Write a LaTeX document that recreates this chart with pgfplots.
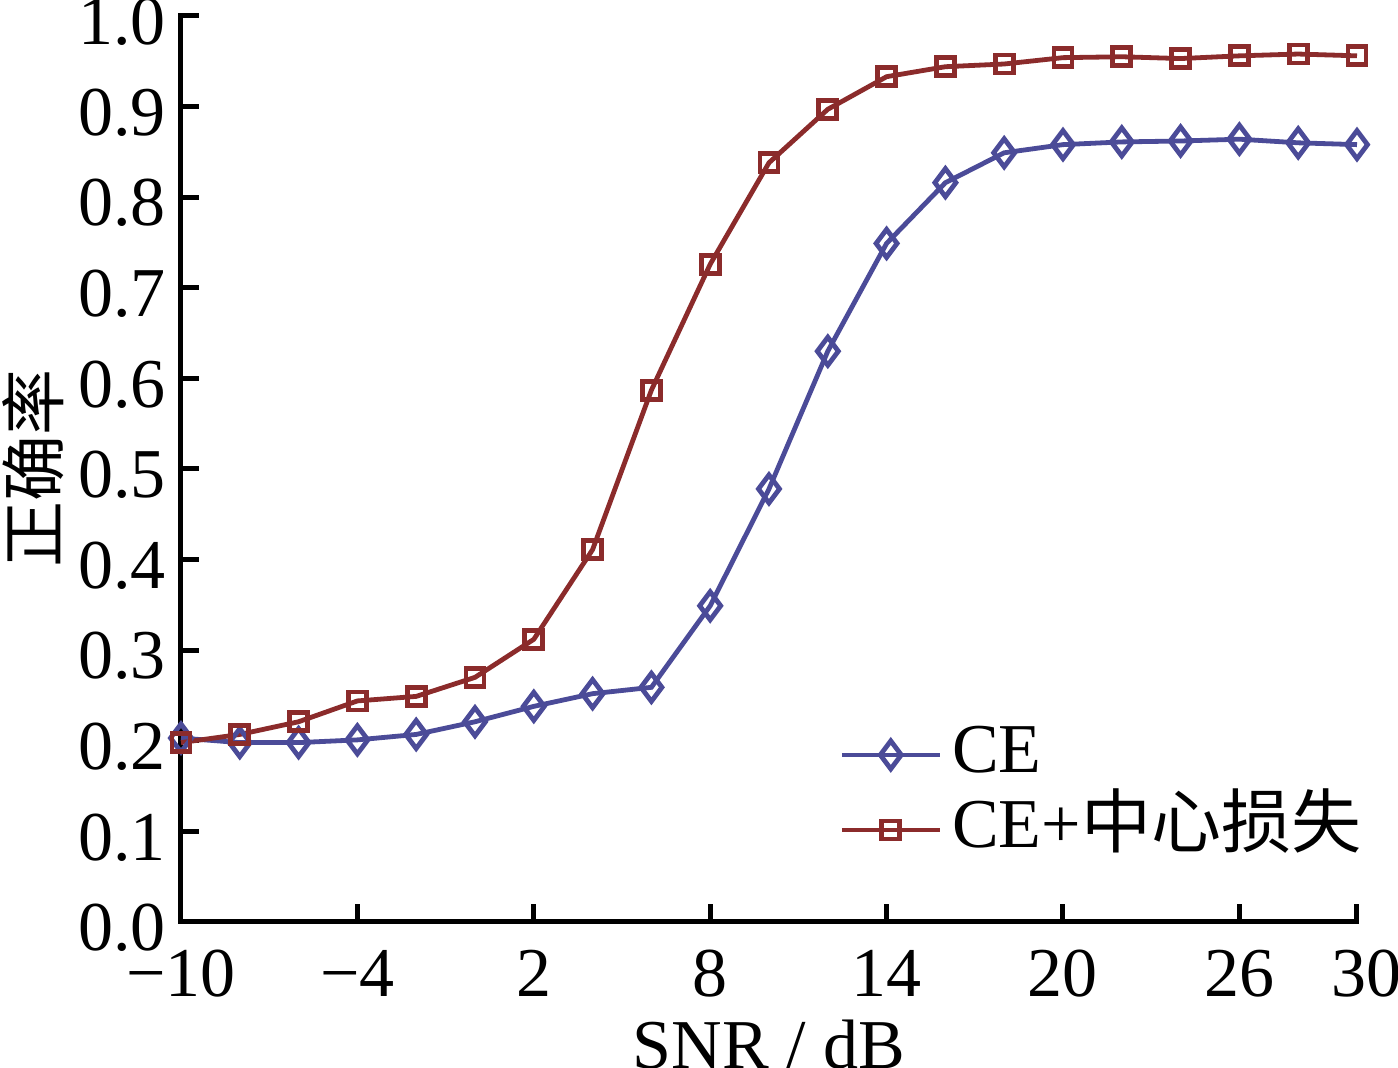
\documentclass[border=0pt]{standalone}
\usepackage{pgfplots}
\pgfplotsset{compat=1.18}
\usepackage{fontspec}
\setmainfont{Liberation Serif}
\newfontfamily\cjk{Noto Sans CJK SC}
\definecolor{ceblue}{RGB}{75,75,152}
\definecolor{cered}{RGB}{139,43,43}
\begin{document}
\begin{tikzpicture}
\begin{axis}[
  at={(0pt,0pt)}, anchor=south west,
  scale only axis,
  width=588pt, height=453pt,
  xmin=-10, xmax=30, ymin=0, ymax=1,
  axis lines=left,
  axis line style={-, line width=2.5pt, line cap=rect},
  every tick/.style={black, line width=2.5pt},
  tick align=inside,
  major tick length=9pt,
  xtick={-10,-4,2,8,14,20,26,30},
  xticklabels={−10\hspace{9pt},−4,2,8,14,20,26,\hspace{10pt}30},
  ytick={0,0.1,0.2,0.3,0.4,0.5,0.6,0.7,0.8,0.9,1.0},
  yticklabels={0.0,0.1,0.2,0.3,0.4,0.5,0.6,0.7,0.8,0.9,1.0},
  /pgf/number format/assume math mode=true,
  tick label style={font=\fontsize{35}{42}\selectfont},
  xticklabel style={yshift=-10.5pt},
  yticklabel style={xshift=-4pt, yshift=-3pt},
  xlabel={SNR / dB},
  ylabel={{\cjk 正确率}},
  xlabel style={at={(axis description cs:0.5,0)}, anchor=base, yshift=-73.5pt, font=\fontsize{35}{42}\selectfont},
  ylabel style={at={(axis description cs:-0.126,0.5)}, anchor=center, rotate=0, font=\fontsize{33}{40}\selectfont},
  legend style={at={(axis description cs:0.5595,0.143)}, anchor=west, draw=none, fill=none, inner sep=0pt,
    font=\fontsize{35}{42}\selectfont, row sep=3.5pt, column sep=5pt,
    nodes={inner sep=0pt, text height=26pt, text depth=8pt}},
  legend cell align=left,
  legend image code/.code={\draw[mark repeat=2,mark phase=2] plot coordinates {(0pt,0pt) (24.5pt,0pt) (49pt,0pt)};},
  clip=false,
]
\addplot[ceblue, line width=2.4pt, mark=diamond, mark size=7pt, mark options={solid, fill=white, line width=2.4pt}] coordinates {
(-10,0.203) (-8,0.198) (-6,0.198) (-4,0.201) (-2,0.207) (0,0.221) (2,0.238) (4,0.252) (6,0.259)
(8,0.349) (10,0.478) (12,0.630) (14,0.749) (16,0.816) (18,0.849) (20,0.858) (22,0.861)
(24,0.862) (26,0.864) (28,0.860) (30,0.858)};
\addlegendentry{CE}
\addplot[cered, line width=2.4pt, mark=square, mark size=4.5pt, mark options={solid, fill=white, line width=2.4pt}] coordinates {
(-10,0.198) (-8,0.207) (-6,0.221) (-4,0.244) (-2,0.249) (0,0.270) (2,0.312) (4,0.411) (6,0.587)
(8,0.726) (10,0.838) (12,0.897) (14,0.933) (16,0.944) (18,0.947) (20,0.954) (22,0.955)
(24,0.953) (26,0.956) (28,0.958) (30,0.956)};
\addlegendentry{CE+{\cjk 中心损失}}
\end{axis}
\pgfresetboundingbox
\path (-90.5pt,-73pt) rectangle (608.5pt,461pt);
\end{tikzpicture}
\end{document}
